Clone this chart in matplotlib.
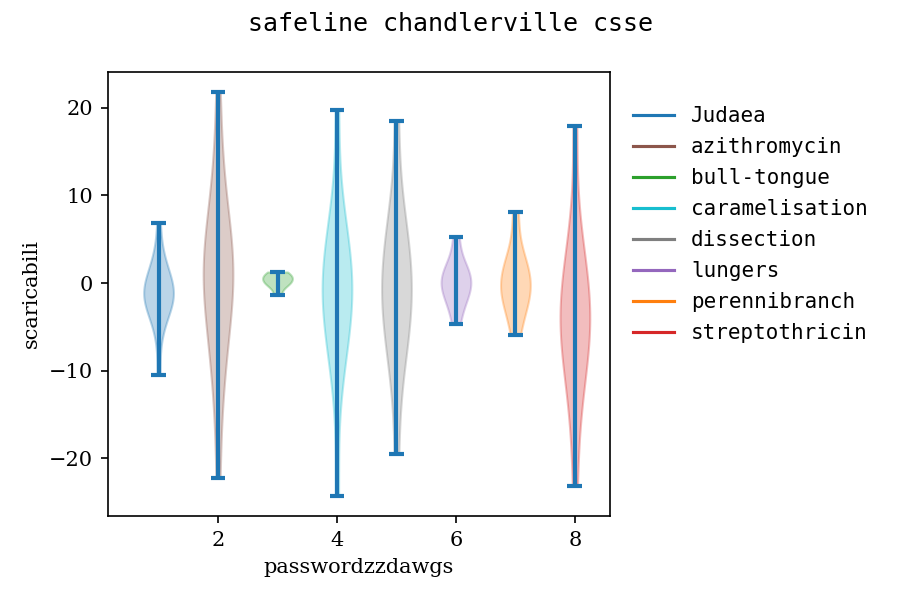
import matplotlib
matplotlib.use("Agg")
import matplotlib.pyplot as plt
from matplotlib.lines import Line2D

# group names and colours (legend order)
names = ["Judaea", "azithromycin", "bull-tongue", "caramelisation",
         "dissection", "lungers", "perennibranch", "streptothricin"]
colors = ["tab:blue", "tab:brown", "tab:green", "tab:cyan",
          "tab:gray", "tab:purple", "tab:orange", "tab:red"]
positions = [1, 2, 3, 4, 5, 6, 7, 8]

# sample values per group
judaea = [-10.5, -6.1, -4.3, -3.5, -2.9, -2.4, -2.0, -1.7, -1.4, -1.1,
          -0.9, -0.6, -0.2, 0.3, 0.8, 1.5, 2.4, 3.6, 6.9]
azithromycin = [-22.3, -13.5, -9.8, -7.2, -5.0, -3.1, -1.6, -0.2, 0.5, 1.2,
                2.0, 2.9, 4.0, 5.4, 7.4, 10.2, 13.9, 21.8]
bull_tongue = [-1.4, -0.3, 0.0, 0.2, 0.5, 0.8, 1.0, 1.26]
caramelisation = [-24.3, -11.0, -8.0, -6.0, -4.5, -3.2, -2.1, -1.2, -0.4,
                  0.5, 1.5, 2.7, 4.2, 6.0, 8.5, 19.8]
dissection = [-19.5, -10.5, -8.0, -6.0, -4.4, -3.0, -1.8, -0.7, 0.4, 1.6,
              3.0, 4.6, 6.5, 9.0, 18.5]
lungers = [-4.7, -2.5, -1.5, -0.8, -0.2, 0.3, 0.8, 1.4, 2.2, 5.3]
perennibranch = [-5.9, -3.2, -2.0, -1.2, -0.5, 0.2, 1.0, 2.0, 3.3, 8.1]
streptothricin = [-23.2, -14.5, -11.0, -8.5, -6.8, -5.6, -4.6, -3.6, -2.5,
                  -1.2, 0.4, 2.5, 5.5, 17.9]

groups = [judaea, azithromycin, bull_tongue, caramelisation,
          dissection, lungers, perennibranch, streptothricin]

fig = plt.figure(figsize=(6, 4), dpi=150)
ax = fig.add_axes([108 / 900, 1 - 516 / 600, 502 / 900, 444 / 600])

parts = ax.violinplot(groups, positions=positions)
for body, c in zip(parts["bodies"], colors):
    body.set_facecolor(c)
    body.set_edgecolor(c)
    body.set_alpha(0.3)
for key in ("cmaxes", "cmins", "cbars"):
    parts[key].set_color("tab:blue")
    parts[key].set_linewidth(2)

ax.set_xlim(0.15, 8.59)
ax.set_ylim(-26.6, 24.1)
ax.set_xticks([2, 4, 6, 8])
ax.set_yticks([-20, -10, 0, 10, 20])
for lab in ax.get_xticklabels() + ax.get_yticklabels():
    lab.set_fontfamily("DejaVu Serif")
ax.set_xlabel("passwordzzdawgs", fontfamily="DejaVu Serif")
ax.set_ylabel("scaricabili", fontfamily="DejaVu Serif")

handles = [Line2D([], [], color=c) for c in colors]
ax.legend(handles, names, loc="upper left", bbox_to_anchor=(1.008, 0.966),
          frameon=False, labelspacing=0.53,
          prop={"family": "DejaVu Sans Mono", "size": 10})

fig.suptitle("safeline chandlerville csse", fontfamily="DejaVu Sans Mono",
             fontsize=12, y=0.98)

fig.savefig("out.png", dpi=150)
